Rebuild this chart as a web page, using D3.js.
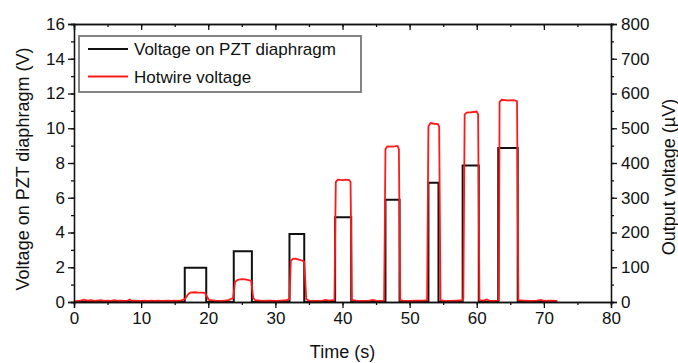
<!DOCTYPE html>
<html>

<head>
	<meta charset="utf-8">
	<style type="text/css">
		body {
			margin: 0;
			background-color: white;
		}

		text {
			font-family: Arial, "Liberation Sans", sans-serif;
			fill: #111;
		}
	</style>
	<title>PZT diaphragm vs hotwire</title>
</head>

<body>
	<div id="chart"></div>
	<script src="https://d3js.org/d3.v7.min.js"></script>
	<script>
		// PZT drive pulses (s, V)
		var pulseStart = [16.5, 23.8, 32.1, 38.9, 46.4, 52.8, 57.9, 63.2];
		var pulseEnd = [19.7, 26.5, 34.3, 41.3, 48.5, 54.3, 60.3, 66.1];
		var pulseLevel = [1.97, 2.92, 3.91, 4.88, 5.88, 6.87, 7.86, 8.86];

		// hotwire output (s, uV)
		var hwTime = [0, 0.5, 1, 1.5, 2, 2.5, 3, 3.5, 4, 4.5, 5, 5.5, 6, 6.5, 7, 7.5, 8, 8.3, 8.6, 9, 10, 10.5, 11, 11.5, 12, 12.5, 13, 14, 14.5, 15, 15.5, 16,
			16.5, 17, 17.3, 18, 18.5, 19, 19.5, 19.8, 20.1, 21, 22, 22.5, 23, 23.4, 23.7,
			24, 24.4, 25, 25.5, 26, 26.4, 26.7, 27, 28, 29, 30, 31, 31.7, 32.1,
			32.3, 32.6, 33, 33.5, 34, 34.3, 34.6, 35, 36, 37, 37.5, 38, 38.6, 38.8,
			39, 39.3, 40, 40.5, 41, 41.2, 41.4, 42, 43, 44, 44.5, 45, 46, 46.2,
			46.4, 46.7, 47.5, 48.2, 48.4, 48.6, 49, 50, 51, 52, 52.6,
			52.8, 53.1, 53.7, 54.2, 54.4, 54.6, 55, 56, 57, 57.8, 58.0,
			58.2, 58.5, 59.2, 60, 60.2, 60.4, 61, 61.5, 62, 63, 63.3,
			63.4, 63.7, 64.5, 65.5, 66, 66.2, 67, 68, 69, 69.5, 70, 71, 72];
		var hwValue = [2, 3, 4, 7, 4, 5, 3, 4, 5, 3, 4, 3, 5, 3, 4, 3, 4, 7, 3, 4, 3, 4, 3, 4, 3, 4, 3, 4, 3, 4, 3, 5,
			8, 22, 27, 28, 27, 27, 26, 16, 6, 4, 3, 4, 5, 9, 11,
			58, 64, 66, 65, 63, 61, 12, 5, 3, 4, 3, 4, 5, 9,
			118, 124, 125, 122, 119, 116, 8, 4, 3, 4, 6, 4, 5, 6,
			345, 352, 351, 352, 351, 345, 6, 4, 3, 4, 6, 4, 3, 5,
			440, 448, 447, 449, 440, 5, 4, 3, 4, 4, 5,
			505, 515, 513, 512, 505, 5, 4, 3, 4, 5, 10,
			540, 545, 546, 548, 540, 5, 4, 7, 3, 4, 5,
			575, 582, 580, 581, 578, 5, 4, 3, 4, 6, 3, 4, 3];

		var xTicks = [0, 10, 20, 30, 40, 50, 60, 70, 80];
		var yLeftTicks = [0, 2, 4, 6, 8, 10, 12, 14, 16];
		var yRightTicks = [0, 100, 200, 300, 400, 500, 600, 700, 800];

		const width = 678,
			height = 363,
			margin = { left: 74, right: 67, top: 24, bottom: 61 };

		const svg = d3.select("#chart").append("svg")
			.attr("width", width)
			.attr("height", height);

		const x = d3.scaleLinear().domain([0, 80]).range([margin.left, width - margin.right]);
		const yL = d3.scaleLinear().domain([0, 16]).range([height - margin.bottom, margin.top]);
		const yR = d3.scaleLinear().domain([0, 800]).range([height - margin.bottom, margin.top]);

		// PZT step line built from the pulse arrays
		var pzt = [[0, 0]];
		pulseStart.forEach(function(s, i) {
			pzt.push([s, 0], [s, pulseLevel[i]], [pulseEnd[i], pulseLevel[i]], [pulseEnd[i], 0]);
		});
		pzt.push([72, 0]);

		svg.append("path")
			.datum(pzt)
			.attr("fill", "none")
			.attr("stroke", "#111")
			.attr("stroke-width", 2)
			.attr("d", d3.line().x(d => x(d[0])).y(d => yL(d[1])));

		svg.append("path")
			.datum(hwTime.map((t, i) => [t, hwValue[i]]))
			.attr("fill", "none")
			.attr("stroke", "#ff1a1a")
			.attr("stroke-width", 1.8)
			.attr("d", d3.line().x(d => x(d[0])).y(d => yR(d[1])));

		// axes: majors + minors
		function styleAxis(g) {
			g.selectAll("path").attr("stroke", "#111").attr("stroke-width", 1.3);
			g.selectAll("line").attr("stroke", "#111").attr("stroke-width", 1.3);
			g.selectAll("text").style("font-size", "17px").attr("fill", "#111");
		}

		var xMinor = d3.range(0, 81, 5);
		var yLMinor = d3.range(0, 17, 1);
		var yRMinor = d3.range(0, 801, 50);

		svg.append("g").attr("transform", "translate(0," + yL(0) + ")")
			.call(d3.axisBottom(x).tickValues(xMinor).tickSize(3).tickFormat(""))
			.call(styleAxis);
		svg.append("g").attr("transform", "translate(0," + yL(0) + ")")
			.call(d3.axisBottom(x).tickValues(xTicks).tickSize(6).tickPadding(4))
			.call(styleAxis);

		svg.append("g").attr("transform", "translate(0," + margin.top + ")")
			.call(d3.axisBottom(x).tickValues(xMinor).tickSize(3).tickFormat(""))
			.call(styleAxis);
		svg.append("g").attr("transform", "translate(0," + margin.top + ")")
			.call(d3.axisBottom(x).tickValues(xTicks).tickSize(6).tickFormat(""))
			.call(styleAxis);

		svg.append("g").attr("transform", "translate(" + margin.left + ",0)")
			.call(d3.axisLeft(yL).tickValues(yLMinor).tickSize(3).tickFormat(""))
			.call(styleAxis);
		svg.append("g").attr("transform", "translate(" + margin.left + ",0)")
			.call(d3.axisLeft(yL).tickValues(yLeftTicks).tickSize(6).tickPadding(3))
			.call(styleAxis);

		svg.append("g").attr("transform", "translate(" + (width - margin.right) + ",0)")
			.call(d3.axisRight(yR).tickValues(yRMinor).tickSize(3).tickFormat(""))
			.call(styleAxis);
		svg.append("g").attr("transform", "translate(" + (width - margin.right) + ",0)")
			.call(d3.axisRight(yR).tickValues(yRightTicks).tickSize(6).tickPadding(4))
			.call(styleAxis);

		// axis titles
		svg.append("text")
			.attr("transform", "translate(29,169) rotate(-90)")
			.attr("text-anchor", "middle")
			.style("font-size", "18px")
			.text("Voltage on PZT diaphragm (V)");

		svg.append("text")
			.attr("transform", "translate(675,177) rotate(-90)")
			.attr("text-anchor", "middle")
			.style("font-size", "18px")
			.text("Output voltage (\u00b5V)");

		svg.append("text")
			.attr("x", (margin.left + width - margin.right) / 2)
			.attr("y", 358)
			.attr("text-anchor", "middle")
			.style("font-size", "18px")
			.text("Time (s)");

		// legend
		var legend = svg.append("g").attr("transform", "translate(79,36)");
		legend.append("rect")
			.attr("width", 282).attr("height", 56)
			.attr("fill", "white")
			.attr("stroke", "#777")
			.attr("stroke-width", 1.8);
		var legendItems = [["Voltage on PZT diaphragm", "#111"], ["Hotwire voltage", "#ff1a1a"]];
		legendItems.forEach(function(d, i) {
			legend.append("line")
				.attr("x1", 9).attr("x2", 49)
				.attr("y1", 13 + i * 27.5).attr("y2", 13 + i * 27.5)
				.attr("stroke", d[1]).attr("stroke-width", 1.8);
			legend.append("text")
				.attr("x", 55).attr("y", 19 + i * 27.5)
				.style("font-size", "17px")
				.text(d[0]);
		});
	</script>
</body>

</html>
